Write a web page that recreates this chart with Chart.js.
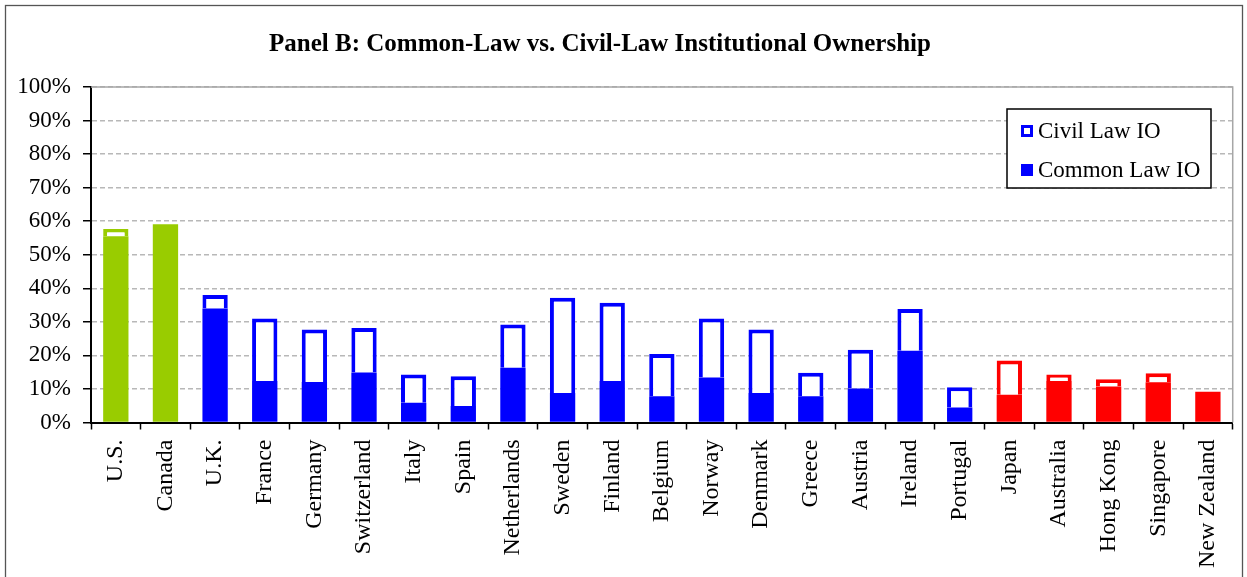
<!DOCTYPE html>
<html>
<head>
<meta charset="utf-8">
<title>Panel B: Common-Law vs. Civil-Law Institutional Ownership</title>
<script src="https://cdn.jsdelivr.net/npm/chart.js@4.4.1/dist/chart.umd.min.js"></script>
<style>
  html, body { margin: 0; padding: 0; background: #ffffff; }
  #wrap { position: relative; width: 1247px; height: 577px; }
</style>
</head>
<body>
<div id="wrap"><canvas id="ioChart" width="1247" height="577"></canvas></div>
<script>
// data (percent of market cap)
const countries = ['U.S.', 'Canada', 'U.K.', 'France', 'Germany', 'Switzerland', 'Italy', 'Spain',
  'Netherlands', 'Sweden', 'Finland', 'Belgium', 'Norway', 'Denmark', 'Greece', 'Austria',
  'Ireland', 'Portugal', 'Japan', 'Australia', 'Hong Kong', 'Singapore', 'New Zealand'];
const commonLawIO = [55.5, 59.1, 34.0, 12.4, 12.1, 14.9, 5.9, 4.9, 16.3, 8.8, 12.4, 7.8,
  13.4, 8.8, 7.8, 10.1, 21.4, 4.5, 8.3, 12.4, 10.7, 12.0, 9.2];
const civilLawIO = [2.2, 0, 4.0, 18.6, 15.6, 13.3, 8.4, 8.9, 12.9, 28.4, 23.3, 12.6,
  17.6, 18.9, 7.0, 11.6, 12.4, 6.0, 10.2, 1.9, 2.2, 2.7, 0];
const regions = ['NA', 'NA', 'EU', 'EU', 'EU', 'EU', 'EU', 'EU', 'EU', 'EU', 'EU', 'EU',
  'EU', 'EU', 'EU', 'EU', 'EU', 'EU', 'AP', 'AP', 'AP', 'AP', 'AP'];
const yTicks = [0, 10, 20, 30, 40, 50, 60, 70, 80, 90, 100];

const regionColor = { NA: '#99cc00', EU: '#0000ff', AP: '#ff0000' };
const barColors = regions.map(r => regionColor[r]);
const SERIF = "'Liberation Serif', 'Times New Roman', serif";

// frame round the whole figure + grey plot-area border
const framePlugin = {
  id: 'frame',
  beforeDraw(chart) {
    const c = chart.ctx;
    c.save();
    c.fillStyle = '#ffffff';
    c.fillRect(0, 0, chart.width, chart.height);
    c.strokeStyle = '#555555';
    c.lineWidth = 1.3;
    c.strokeRect(5.5, 5.5, 1237, 620);
    c.restore();
  },
  afterDatasetsDraw(chart) {
    const a = chart.chartArea;
    const c = chart.ctx;
    c.save();
    c.strokeStyle = '#a6a6a6';
    c.lineWidth = 1.5;
    c.beginPath();
    c.moveTo(a.left, a.top);
    c.lineTo(a.right, a.top);
    c.lineTo(a.right, a.bottom);
    c.stroke();
    c.restore();
  }
};

// title + boxed legend drawn on the canvas
const textPlugin = {
  id: 'panelText',
  afterDraw(chart) {
    const c = chart.ctx;
    c.save();
    c.fillStyle = '#000000';
    c.font = 'bold 25px ' + SERIF;
    c.textAlign = 'center';
    c.textBaseline = 'middle';
    c.fillText('Panel B: Common-Law vs. Civil-Law Institutional Ownership', 600, 45);

    // legend box
    c.fillStyle = '#ffffff';
    c.fillRect(1007, 109, 204, 79);
    c.strokeStyle = '#000000';
    c.lineWidth = 1.5;
    c.strokeRect(1007, 109, 204, 79);

    const ds = chart.data.datasets;
    const rows = [{ label: ds[1].label, y: 131, open: true }, { label: ds[0].label, y: 170, open: false }];
    rows.forEach(row => {
      c.fillStyle = '#0000ff';
      c.fillRect(1021, row.y - 6, 12, 12);
      if (row.open) {
        c.fillStyle = '#ffffff';
        c.fillRect(1024, row.y - 3, 6, 6);
      }
      c.fillStyle = '#000000';
      c.font = '23px ' + SERIF;
      c.textAlign = 'left';
      c.textBaseline = 'middle';
      c.fillText(row.label, 1038, row.y + 1);
    });
    c.restore();
  }
};

new Chart(document.getElementById('ioChart'), {
  type: 'bar',
  data: {
    labels: countries,
    datasets: [
      {
        label: 'Common Law IO',
        data: commonLawIO,
        backgroundColor: barColors,
        borderColor: barColors,
        borderWidth: 0,
        barPercentage: 0.51,
        categoryPercentage: 1
      },
      {
        label: 'Civil Law IO',
        data: civilLawIO,
        backgroundColor: '#ffffff',
        borderColor: barColors,
        borderWidth: 4,
        borderSkipped: 'bottom',
        barPercentage: 0.51,
        categoryPercentage: 1
      }
    ]
  },
  options: {
    responsive: false,
    animation: false,
    layout: { padding: { top: 87, right: 14, left: 0, bottom: 0 } },
    plugins: {
      legend: { display: false },
      title: { display: false },
      tooltip: { enabled: false }
    },
    scales: {
      x: {
        stacked: true,
        afterFit: s => { s.height = 154.5; },
        grid: { display: true, drawOnChartArea: false, drawTicks: true, tickLength: 7, tickColor: '#000000', tickWidth: 1.5, offset: true },
        border: { display: true, color: '#000000', width: 2 },
        ticks: {
          autoSkip: false,
          minRotation: 90,
          maxRotation: 90,
          padding: 10,
          color: '#000000',
          font: { family: SERIF, size: 24 }
        }
      },
      y: {
        stacked: true,
        min: 0,
        max: 100,
        afterFit: s => { s.width = 91; },
        afterBuildTicks: s => { s.ticks = yTicks.map(v => ({ value: v })); },
        grid: { color: '#b8b8b8', lineWidth: 1.5, drawTicks: true, tickLength: 8, tickColor: '#000000', tickWidth: 1.5 },
        border: { display: true, color: '#000000', width: 2, dash: [5, 3] },
        ticks: {
          padding: 12,
          color: '#000000',
          font: { family: SERIF, size: 23 },
          callback: v => v + '%'
        }
      }
    }
  },
  plugins: [framePlugin, textPlugin]
});
</script>
</body>
</html>
